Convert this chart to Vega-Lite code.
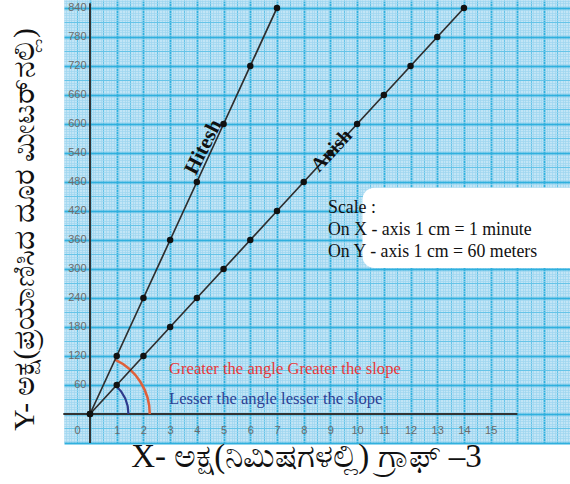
{
 "$schema": "https://vega.github.io/schema/vega-lite/v6.json",
 "width": 506, "height": 443,
 "autosize": {"type": "none"},
 "padding": {"left": 64, "top": 0, "right": 0, "bottom": 41},
 "background": "white",
 "view": {"fill": "#c2e5f6", "stroke": null},
 "encoding": {
  "x": {"field": "x", "type": "quantitative",
    "scale": {"domain": [-0.974, 17.97], "nice": false, "zero": false},
    "axis": {
      "orient": "bottom", "offset": -22, "tickCount": 190,
      "domain": false, "ticks": false,
      "labelExpr": "(abs(datum.value - round(datum.value)) < 1e-6 && datum.value > -0.5 && datum.value < 15.5) ? format(round(datum.value), 'd') : ''",
      "labelOverlap": false, "labelFlush": false, "labelBound": false,
      "labelPadding": 3, "labelFontSize": 11, "labelColor": "#6a6a6a", "labelFont": "Liberation Sans",
      "labelOffset": {"condition": {"test": "abs(datum.value) < 1e-6", "value": -13}, "value": 0},
      "gridColor": {"condition": [
         {"test": "abs(datum.value - round(datum.value)) < 1e-6", "value": "#30b0de"},
         {"test": "abs(datum.value*2 - round(datum.value*2)) < 1e-6", "value": "#66c4e8"}
       ], "value": "#9dd5ef"},
      "gridWidth": {"condition": [
         {"test": "abs(datum.value - round(datum.value)) < 1e-6", "value": 1.9},
         {"test": "abs(datum.value*2 - round(datum.value*2)) < 1e-6", "value": 1.1}
       ], "value": 0.7},
      "gridOpacity": 1,
      "title": "X- ಅಕ್ಷ(ನಿಮಿಷಗಳಲ್ಲಿ) ಗ್ರಾಫ್ –3",
      "titleFont": "Liberation Serif", "titleFontSize": 33, "titleFontWeight": "normal", "titleColor": "#111",
      "titleX": 242, "titleY": 45, "titleAlign": "center", "titleBaseline": "alphabetic", "titleAngle": 0
    }},
  "y": {"field": "y", "type": "quantitative",
    "scale": {"domain": [-60, 856.5], "nice": false, "zero": false},
    "axis": {
      "orient": "left", "offset": -24, "tickCount": 183,
      "domain": false, "ticks": false,
      "labelExpr": "(abs(datum.value/60 - round(datum.value/60)) < 1e-6 && datum.value > 30 && datum.value < 850) ? format(datum.value, 'd') : ''",
      "labelOverlap": false, "labelFlush": false, "labelBound": false,
      "labelPadding": 2, "labelFontSize": 11, "labelColor": "#6a6a6a", "labelFont": "Liberation Sans",
      "gridColor": {"condition": [
         {"test": "abs(datum.value/60 - round(datum.value/60)) < 1e-6", "value": "#30b0de"},
         {"test": "abs(datum.value/30 - round(datum.value/30)) < 1e-6", "value": "#66c4e8"}
       ], "value": "#9dd5ef"},
      "gridWidth": {"condition": [
         {"test": "abs(datum.value/60 - round(datum.value/60)) < 1e-6", "value": 1.9},
         {"test": "abs(datum.value/30 - round(datum.value/30)) < 1e-6", "value": 1.1}
       ], "value": 0.7},
      "gridOpacity": 1,
      "title": "Y- ಅಕ್ಷ(ಪ್ರಯಾಣಿಸಿದ ದೂರ ಮೀಟರ್‌ನಲ್ಲಿ)",
      "titleFont": "Liberation Serif", "titleFontSize": 29.5, "titleFontWeight": "normal", "titleColor": "#111",
      "titleX": -55, "titleY": 229, "titleAlign": "center", "titleBaseline": "alphabetic", "titleAngle": -90
    }}
 },
 "layer": [
  {
   "data": {"values": [{"x": 10.2, "x2": 18.6, "y": 302, "y2": 468}]},
   "mark": {"type": "rect", "color": "white", "cornerRadius": 12, "clip": true},
   "encoding": {"x2": {"field": "x2"}, "y2": {"field": "y2"}}
  },
  {
   "data": {"values": [{"x": 0, "y": -60, "y2": 850}]},
   "mark": {"type": "rule", "color": "#333", "strokeWidth": 2},
   "encoding": {"y2": {"field": "y2"}}
  },
  {
   "data": {"values": [{"x": -1, "x2": 16, "y": 0}]},
   "mark": {"type": "rule", "color": "#333", "strokeWidth": 2},
   "encoding": {"x2": {"field": "x2"}}
  },
  {
   "data": {"values": [{"x": 0, "y": 0}]},
   "mark": {"type": "arc", "radius": 61, "radius2": 58.5, "theta": 0.43, "theta2": 1.5708, "color": "#e0603a"},
   "encoding": {}
  },
  {
   "data": {"values": [{"x": 0, "y": 0}]},
   "mark": {"type": "arc", "radius": 39.5, "radius2": 37.3, "theta": 0.743, "theta2": 1.5708, "color": "#2d3a8c"},
   "encoding": {}
  },
  {
   "data": {"values": [
    {"series": "Hitesh", "x": 0, "y": 0}, {"series": "Hitesh", "x": 1, "y": 120}, {"series": "Hitesh", "x": 2, "y": 240},
    {"series": "Hitesh", "x": 3, "y": 360}, {"series": "Hitesh", "x": 4, "y": 480}, {"series": "Hitesh", "x": 5, "y": 600},
    {"series": "Hitesh", "x": 6, "y": 720}, {"series": "Hitesh", "x": 7, "y": 840},
    {"series": "Anish", "x": 0, "y": 0}, {"series": "Anish", "x": 1, "y": 60}, {"series": "Anish", "x": 2, "y": 120},
    {"series": "Anish", "x": 3, "y": 180}, {"series": "Anish", "x": 4, "y": 240}, {"series": "Anish", "x": 5, "y": 300},
    {"series": "Anish", "x": 6, "y": 360}, {"series": "Anish", "x": 7, "y": 420}, {"series": "Anish", "x": 8, "y": 480},
    {"series": "Anish", "x": 9, "y": 540}, {"series": "Anish", "x": 10, "y": 600}, {"series": "Anish", "x": 11, "y": 660},
    {"series": "Anish", "x": 12, "y": 720}, {"series": "Anish", "x": 13, "y": 780}, {"series": "Anish", "x": 14, "y": 840}
   ]},
   "layer": [
    {
     "mark": {"type": "line", "color": "#2e2e2e", "strokeWidth": 1.7},
     "encoding": {"detail": {"field": "series"}}
    },
    {
     "mark": {"type": "circle", "color": "#111", "size": 42, "opacity": 1},
     "encoding": {}
    }
   ]
  },
  {
   "data": {"values": [{"label": "Hitesh", "x": 4.25, "y": 552}]},
   "mark": {"type": "text", "font": "Liberation Serif", "fontSize": 21, "fontWeight": "bold", "color": "#111", "angle": 297, "align": "center", "baseline": "middle"},
   "encoding": {"text": {"field": "label"}}
  },
  {
   "data": {"values": [{"label": "Anish", "x": 9.05, "y": 545}]},
   "mark": {"type": "text", "font": "Liberation Serif", "fontSize": 20, "fontWeight": "bold", "color": "#111", "angle": 313, "align": "center", "baseline": "middle"},
   "encoding": {"text": {"field": "label"}}
  },
  {
   "data": {"values": [{"label": "Greater the angle Greater the slope", "x": 2.96, "y": 93}]},
   "mark": {"type": "text", "font": "Liberation Serif", "fontSize": 16.6, "color": "#e8393a", "align": "left", "baseline": "middle"},
   "encoding": {"text": {"field": "label"}}
  },
  {
   "data": {"values": [{"label": "Lesser the angle lesser the slope", "x": 2.96, "y": 31}]},
   "mark": {"type": "text", "font": "Liberation Serif", "fontSize": 16.6, "color": "#2e3f94", "align": "left", "baseline": "middle"},
   "encoding": {"text": {"field": "label"}}
  },
  {
   "data": {"values": [
    {"label": "Scale :", "x": 8.91, "y": 426},
    {"label": "On X - axis 1 cm = 1 minute", "x": 8.91, "y": 381},
    {"label": "On Y - axis 1 cm = 60 meters", "x": 8.91, "y": 335}
   ]},
   "mark": {"type": "text", "font": "Liberation Serif", "fontSize": 17.8, "color": "#111", "align": "left", "baseline": "middle"},
   "encoding": {"text": {"field": "label"}}
  }
 ]
}
